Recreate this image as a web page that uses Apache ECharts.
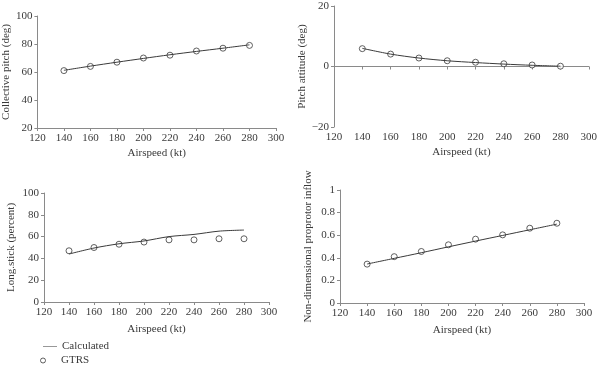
<!DOCTYPE html>
<html><head><meta charset="utf-8">
<script src="https://cdn.jsdelivr.net/npm/echarts@6/dist/echarts.min.js"></script>
<style>html,body{margin:0;padding:0;background:#fff}#c{width:600px;height:366px}</style>
</head><body><div id="c"></div>
<script>
const airspeed = [140,160,180,200,220,240,260,280];
const xTicks = [120,140,160,180,200,220,240,260,280,300];
// Collective pitch (deg)
const collCalc = [61.2,64.2,67.0,69.7,72.3,74.7,77.0,79.4];
const collGTRS = [61,64,67,70,72,75,77,79];
// Pitch attitude (deg)
const pitchCalc = [6.0,4.1,2.8,1.9,1.3,0.8,0.4,0.1];
const pitchGTRS = [5.9,4.1,2.8,1.9,1.4,0.9,0.5,0.1];
// Long. stick (percent)
const stickCalc = [44,49.5,53.4,56,60,62,65,66];
const stickGTRS = [47,50,53,55,57,57,58,58];
// Non-dimensional proprotor inflow
const inflowCalc = [0.345,0.395,0.445,0.497,0.548,0.598,0.648,0.698];
const inflowGTRS = [0.344,0.41,0.456,0.515,0.565,0.603,0.662,0.706];

const FONT = 'Liberation Serif';
const TXT = '#3a3a3a';
const AX = '#8a8a8a';

const grids = [
  {left:36, top:16, width:240, height:112},
  {left:334, top:6, width:259, height:121},
  {left:44, top:193, width:225, height:109},
  {left:340, top:190, width:244, height:113}
];
const yCfg = [
  {name:'Collective pitch (deg)', min:20, max:100, interval:20, gap:24, fmt:v=>v},
  {name:'Pitch attitude (deg)', min:-20, max:20, interval:20, gap:24, fmt:v=>v===-20?'\u221220':v},
  {name:'Long.stick (percent)', min:0, max:100, interval:20, gap:27, fmt:v=>v},
  {name:'Non-dimensional proprotor inflow', min:0, max:1, interval:0.2, gap:26, fmt:v=>v}
];
const xGaps = [20,20,22,22];
const calcs = [collCalc,pitchCalc,stickCalc,inflowCalc];
const gtrs = [collGTRS,pitchGTRS,stickGTRS,inflowGTRS];

const xAxis = grids.map((g,i)=>({
  type:'value', gridIndex:i, min:xTicks[0], max:xTicks[xTicks.length-1], interval:20,
  name:'Airspeed (kt)', nameLocation:'middle', nameGap:xGaps[i],
  nameTextStyle:{fontFamily:FONT, fontSize:11, color:TXT},
  axisLine:{lineStyle:{color:AX, width:1}},
  axisTick:{show:true, length:3, lineStyle:{color:AX}},
  axisLabel:{fontFamily:FONT, fontSize:11, color:TXT, margin:5},
  splitLine:{show:false}
}));
const yAxis = yCfg.map((c,i)=>({
  type:'value', gridIndex:i, min:c.min, max:c.max, interval:c.interval,
  name:c.name, nameLocation:'middle', nameGap:c.gap,
  nameTextStyle:{fontFamily:FONT, fontSize:11, color:TXT},
  axisLine:{show:true, lineStyle:{color:AX, width:1}},
  axisTick:{show:true, length:3, lineStyle:{color:AX}},
  axisLabel:{fontFamily:FONT, fontSize:11, color:TXT, margin:5, formatter:c.fmt},
  splitLine:{show:false}
}));
const series = [];
for (let i=0;i<4;i++){
  series.push({
    name:'Calculated', type:'line', xAxisIndex:i, yAxisIndex:i, smooth:0.3,
    showSymbol:false, symbol:'none',
    lineStyle:{color:'#3a3a3a', width:1},
    data: airspeed.map((x,k)=>[x,calcs[i][k]])
  });
  series.push({
    name:'GTRS', type:'scatter', xAxisIndex:i, yAxisIndex:i,
    symbol:'circle', symbolSize:6,
    itemStyle:{color:'#fff', borderColor:'#3a3a3a', borderWidth:1},
    data: airspeed.map((x,k)=>[x,gtrs[i][k]])
  });
}
const legendText = {fontFamily:FONT, fontSize:11, color:TXT};
const chart = echarts.init(document.getElementById('c'), null, {renderer:'canvas'});
chart.setOption({
  animation:false,
  grid: grids,
  xAxis, yAxis, series,
  legend:[
    {left:43, top:341, padding:0, itemWidth:14, itemHeight:8, itemGap:4, textStyle:legendText,
     data:[{name:'Calculated', icon:'path://M0,5L16,5L16,5.6L0,5.6Z', itemStyle:{color:'#3a3a3a'}}]},
    {left:40, top:355, padding:0, itemWidth:10, itemHeight:5, itemGap:4,
     textStyle:Object.assign({padding:[0,0,0,8]}, legendText),
     data:[{name:'GTRS', icon:'circle', itemStyle:{color:'#fff', borderColor:'#3a3a3a', borderWidth:1}}]}
  ]
});
</script></body></html>
